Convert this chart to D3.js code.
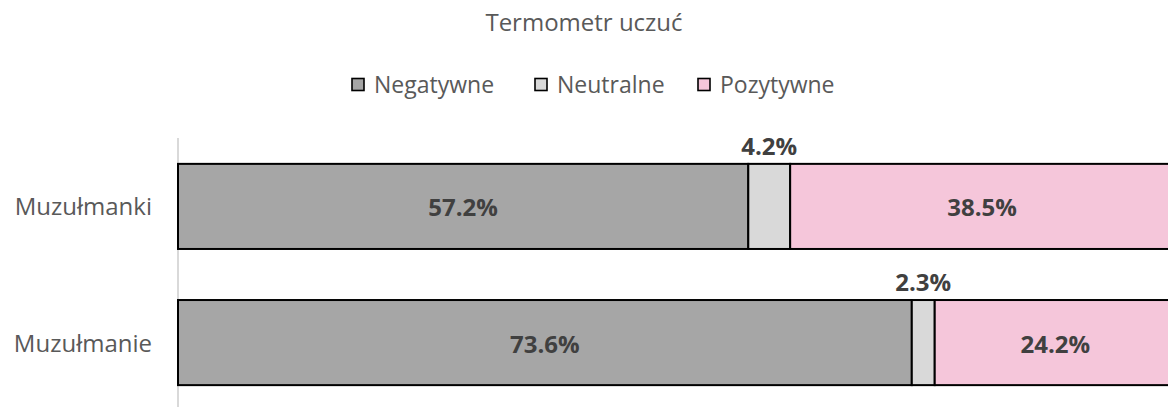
<!DOCTYPE html>
<html>
<head>
<meta charset="utf-8">
<script src="https://cdn.jsdelivr.net/npm/d3@7"></script>
<style>
  body { margin: 0; background: #fff; }
  svg { display: block; font-family: "Open Sans", sans-serif; }
</style>
</head>
<body>
<div id="chart"></div>
<script>
const categories = ["Muzułmanki", "Muzułmanie"]
const seriesNames = ["Negatywne", "Neutralne", "Pozytywne"]
const negatywne = [57.2, 73.6]
const neutralne = [4.2, 2.3]
const pozytywne = [38.5, 24.2]
const colors = ["#a6a6a6", "#d9d9d9", "#f5c6da"]

const width = 1168, height = 407

const data = categories.map((c, i) => ({
    category: c,
    Negatywne: negatywne[i],
    Neutralne: neutralne[i],
    Pozytywne: pozytywne[i]
}))

const svg = d3.select("#chart").append("svg")
    .attr("width", width)
    .attr("height", height)

const x = d3.scaleLinear()
    .domain([0, 100])
    .range([178, 1175])

const y = d3.scaleBand()
    .domain(categories)
    .range([138, 411])
    .paddingInner(0.375)
    .paddingOuter(0.19)

const color = d3.scaleOrdinal()
    .domain(seriesNames)
    .range(colors)

const stacked = d3.stack().keys(seriesNames)(data)

// title
svg.append("text")
    .attr("x", 584)
    .attr("y", 31)
    .attr("text-anchor", "middle")
    .style("font-size", "24px")
    .style("fill", "#595959")
    .text("Termometr uczuć")

// legend
const legendX = [351, 534, 697]
const legend = svg.append("g")
legend.selectAll("rect")
    .data(seriesNames)
    .enter().append("rect")
    .attr("x", (d, i) => legendX[i] + 1)
    .attr("y", 78.5)
    .attr("width", 12)
    .attr("height", 12)
    .attr("fill", d => color(d))
    .attr("stroke", "#000")
    .attr("stroke-width", 1.6)
legend.selectAll("text")
    .data(seriesNames)
    .enter().append("text")
    .attr("x", (d, i) => legendX[i] + 23)
    .attr("y", 93)
    .style("font-size", "23px")
    .style("fill", "#595959")
    .text(d => d)

// axis line
svg.append("line")
    .attr("x1", 178).attr("x2", 178)
    .attr("y1", 138).attr("y2", 407)
    .attr("stroke", "#d9d9d9")
    .attr("stroke-width", 2)

// bars
const groups = svg.append("g")
    .selectAll("g")
    .data(stacked)
    .enter().append("g")
    .attr("fill", d => color(d.key))

groups.selectAll("rect")
    .data(d => d)
    .enter().append("rect")
    .attr("x", d => x(d[0]))
    .attr("y", d => y(d.data.category))
    .attr("width", d => x(d[1]) - x(d[0]))
    .attr("height", y.bandwidth())
    .attr("stroke", "#000")
    .attr("stroke-width", 2)

// value labels
groups.selectAll("text")
    .data(d => d.map(v => Object.assign(v, { key: d.key })))
    .enter().append("text")
    .attr("x", d => (x(d[0]) + x(d[1])) / 2)
    .attr("y", d => d.key === "Neutralne"
        ? y(d.data.category) - 9
        : y(d.data.category) + y.bandwidth() / 2 + 10)
    .attr("text-anchor", "middle")
    .style("font-size", "24px")
    .style("font-weight", "bold")
    .style("fill", "#404040")
    .text(d => (d[1] - d[0]).toFixed(1) + "%")

// category labels
svg.append("g")
    .selectAll("text")
    .data(categories)
    .enter().append("text")
    .attr("x", 152)
    .attr("y", d => y(d) + y.bandwidth() / 2 + 9)
    .attr("text-anchor", "end")
    .style("font-size", "24px")
    .style("fill", "#595959")
    .text(d => d)
</script>
</body>
</html>
